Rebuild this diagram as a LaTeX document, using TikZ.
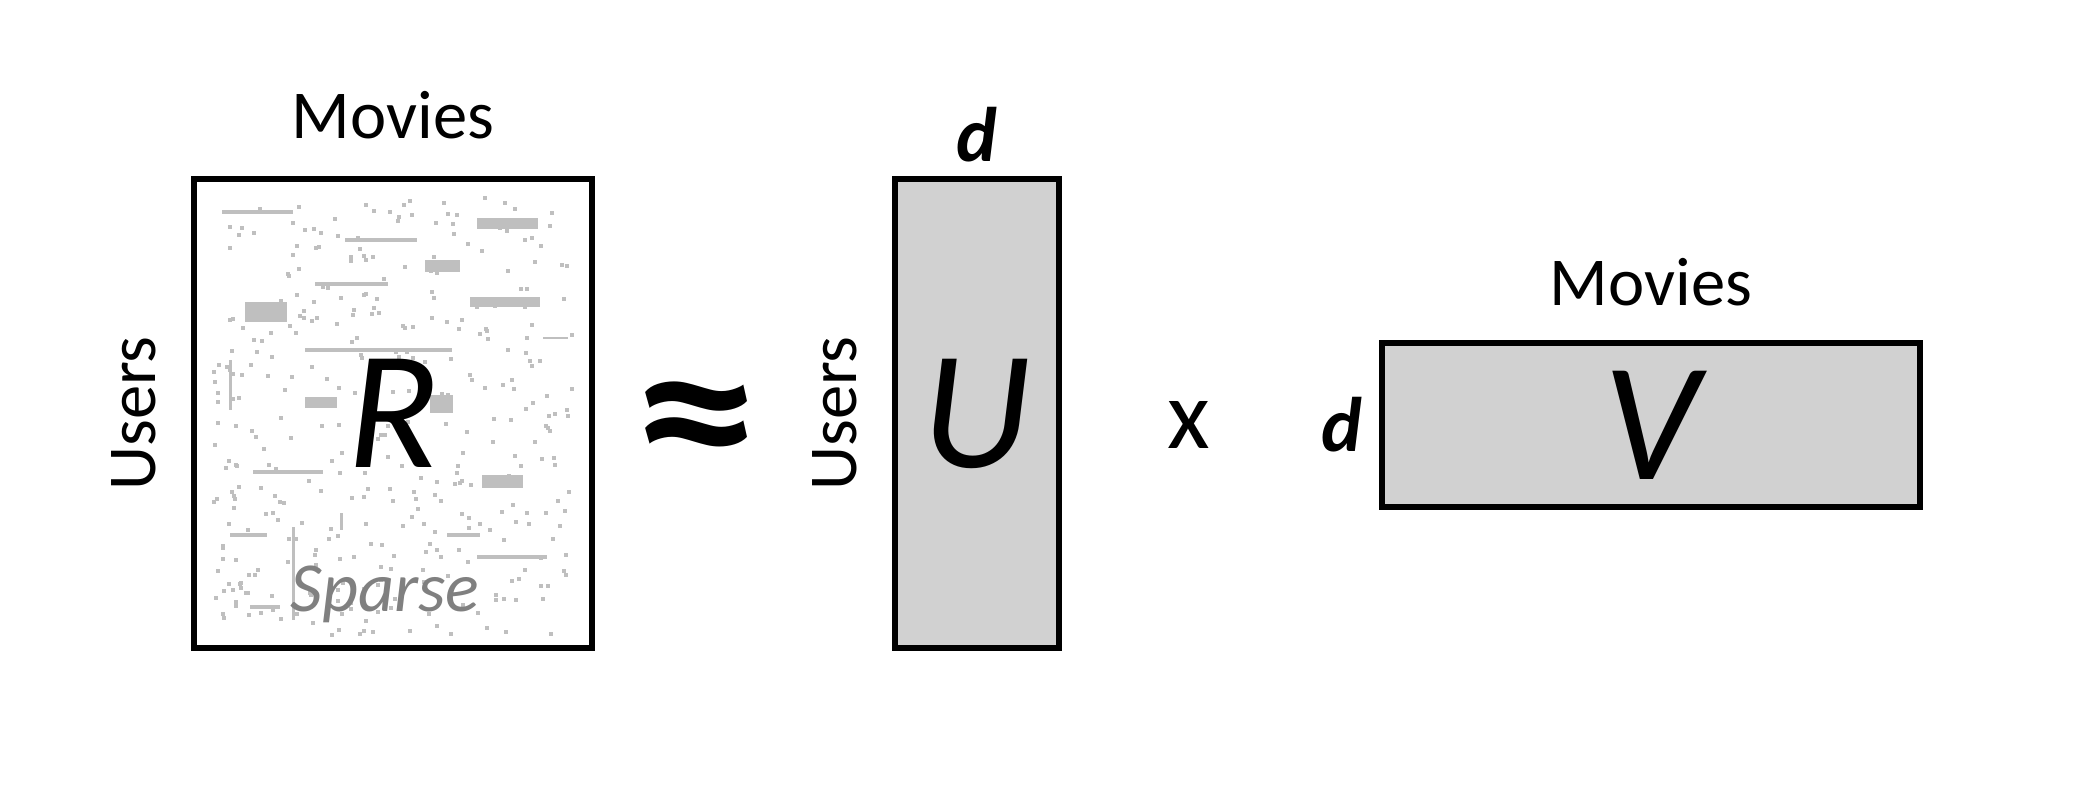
\documentclass[tikz,border=0pt]{standalone}
\usepackage{fontspec}
\setmainfont{Carlito}
\usetikzlibrary{positioning}

\begin{document}
\begin{tikzpicture}[
    x=0.01cm, y=-0.01cm,
    matbox/.style={draw,line width=1.7pt,inner sep=0pt},
    factor/.style={matbox,fill=black!18},
    axis/.style={font=\fontsize{19.5}{19.5}\selectfont,inner sep=0pt},
    letter/.style={font=\fontsize{48}{48}\selectfont\itshape},
    dim/.style={font=\fontsize{22}{22}\selectfont\bfseries\itshape,inner sep=0pt},
    sparsedot/.style={fill=black!25}
]
\useasboundingbox (0,0) rectangle (2094,790);

% ratings matrix
\node[matbox,minimum width=3.98cm,minimum height=4.69cm] (R) at (393,413.5) {};
\pgfmathsetseed{23}
\foreach \i in {1,...,380}{
    \pgfmathsetmacro{\dx}{212+rnd*360}
    \pgfmathsetmacro{\dy}{195+rnd*440}
    \fill[sparsedot] (\dx,\dy) rectangle ++(4,4);
}
\foreach \xa/\ya/\xb/\yb in {222/210/293/214, 477/218/538/229, 345/238/417/242,
    425/260/460/272, 315/282/388/286, 470/297/540/307, 245/302/287/322,
    305/348/452/352, 543/337/568/339, 305/397/337/408, 430/395/453/413,
    253/470/323/474, 482/475/523/488, 230/533/267/537, 477/555/547/559,
    292/527/295/620, 229/360/232/410, 340/513/343/530, 250/605/280/609,
    447/533/480/537}
    \fill[sparsedot] (\xa,\ya) rectangle (\xb,\yb);
\node[letter] (Rname) at (R.center) {R};
\node[font=\fontsize{20}{20}\selectfont\itshape,text=black!50] (sparse) at (385,594) {Sparse};
\node[axis,above=0.36cm of R] (moviesR) {Movies};
\node[axis,rotate=90,anchor=south] (usersR) at ([xshift=-0.34cm]R.west) {Users};

\node[font=\fontsize{60}{60}\selectfont\bfseries,xscale=1.2] (approx) at (697,432) {≈};

% user factors
\node[factor,minimum width=1.64cm,minimum height=4.69cm] (U) at (977,413.5) {};
\node[letter] (Uname) at (U.center) {U};
\node[dim,above=0.13cm of U] (dU) {d};
\node[axis,rotate=90,anchor=south] (usersU) at ([xshift=-0.34cm]U.west) {Users};

\node[font=\fontsize{28}{28}\selectfont] (times) at (1189,425) {x};

% movie factors
\node[factor,minimum width=5.38cm,minimum height=1.64cm] (V) at (1651,425) {};
\node[letter] (Vname) at (V.center) {V};
\node[dim,left=0.16cm of V] (dV) {d};
\node[axis,above=0.33cm of V] (moviesV) {Movies};
\end{tikzpicture}
\end{document}
